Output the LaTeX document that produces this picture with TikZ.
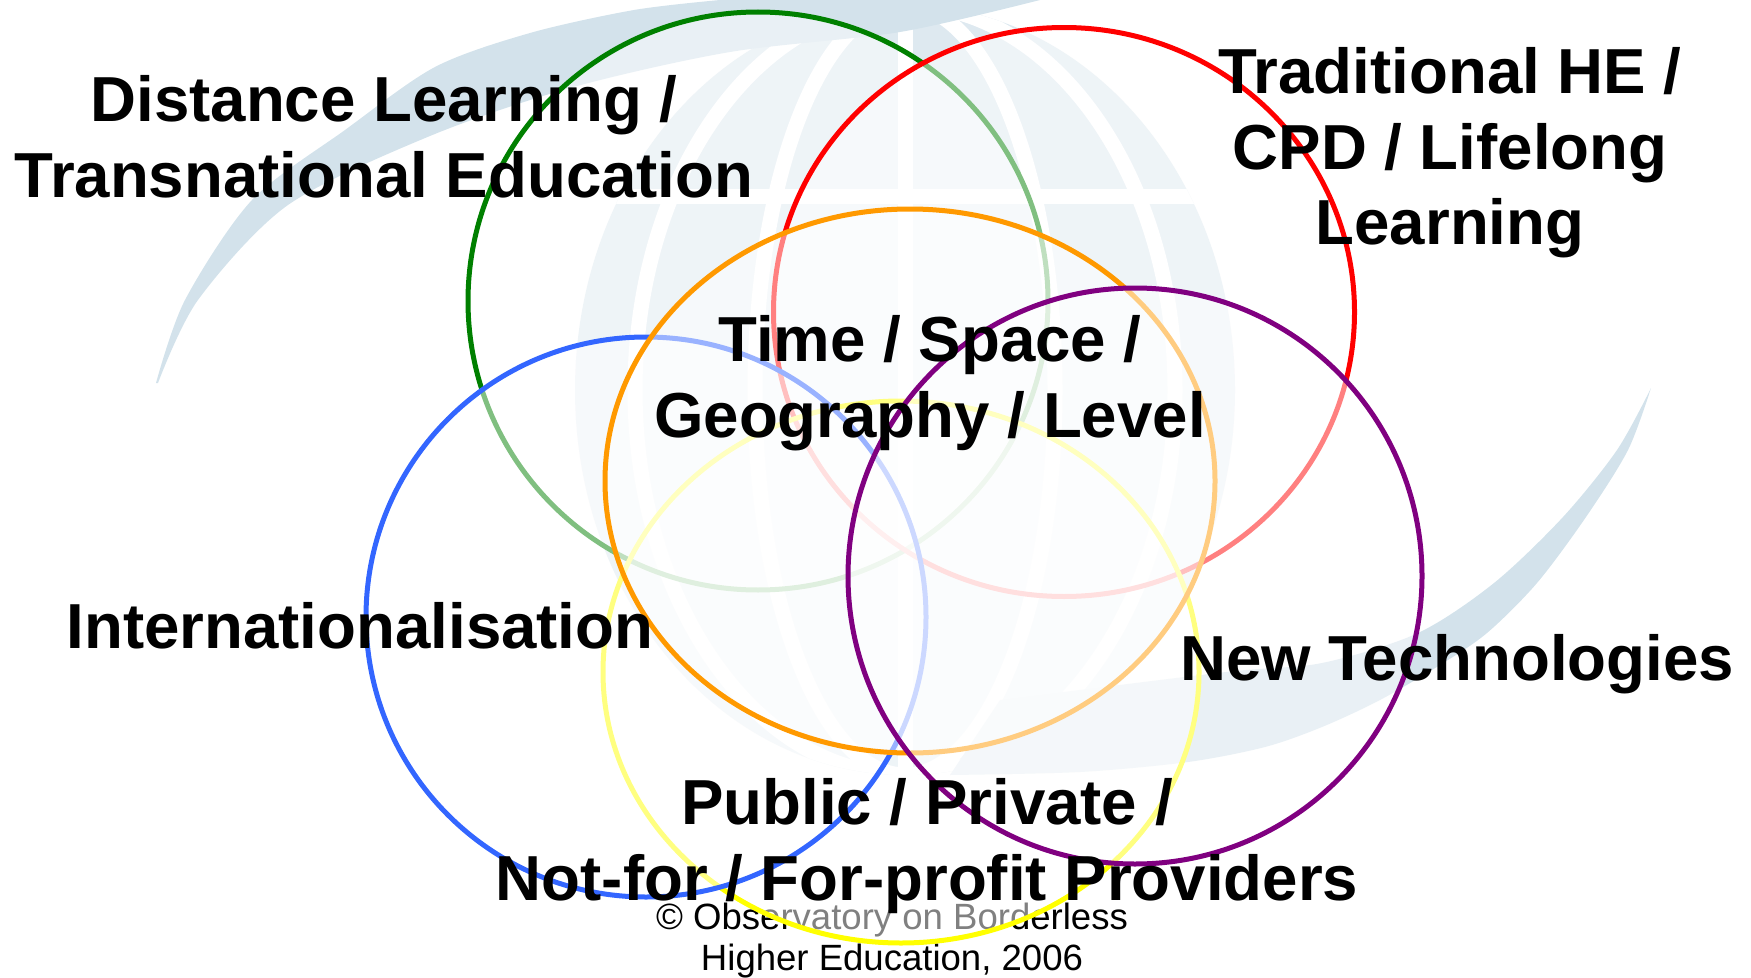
\documentclass[tikz,border=0pt]{standalone}
\usepackage{fontspec}
\setmainfont{Liberation Sans}
\usetikzlibrary{shapes.geometric}
\definecolor{logoblue}{HTML}{D3E2EB}
\definecolor{vgreen}{HTML}{008000}
\definecolor{vred}{HTML}{FF0000}
\definecolor{vorange}{HTML}{FF9900}
\definecolor{vblue}{HTML}{3366FF}
\definecolor{vyellow}{HTML}{FFFF00}
\definecolor{vpurple}{HTML}{800080}

\begin{document}
\begin{tikzpicture}[x=0.1mm, y=-0.1mm,
  ring/.style={ellipse, draw=#1, line width=0.5mm, fill=white, fill opacity=0.5, inner sep=0pt, outer sep=0pt},
  big/.style={align=center, font=\fontsize{18.1}{21.6}\selectfont\bfseries, anchor=base, inner sep=0pt},
  small/.style={align=center, font=\fontsize{10.4}{11.4}\selectfont, anchor=base, inner sep=0pt}]

\useasboundingbox (0,0) rectangle (1751,978);

% background logo: globe
\fill[logoblue!75] (905,390) ellipse [x radius=33mm, y radius=38.5mm];
\begin{scope}
\clip (905,390) ellipse [x radius=33mm, y radius=38.5mm];
\draw[white, line width=1.5mm] (905,0) -- (905,800);
\draw[white, line width=1.5mm] (905,390) ellipse [x radius=15mm, y radius=38.5mm];
\draw[white, line width=1.5mm] (905,390) ellipse [x radius=27mm, y radius=38.5mm];
\draw[white, line width=1.5mm] (500,197) -- (1300,197);
\end{scope}
% swooshes
\fill[logoblue] plot[smooth] coordinates {(156,383) (185,300) (252,200) (345,130) (435,67) (530,33) (634,10) (720,0)}
  -- plot[smooth] coordinates {(1040,0) (900,32) (730,52) (570,88) (430,136) (288,205) (198,300) (158,383)} -- cycle;
\fill[logoblue] plot[smooth] coordinates {(1651,388) (1617,450) (1563,517) (1494,583) (1418,633) (1322,663) (1226,672) (1000,700)}
  -- plot[smooth] coordinates {(950,775) (1080,772) (1188,762) (1265,747) (1322,727) (1380,700) (1440,665) (1487,633) (1537,583) (1586,517) (1628,450) (1651,388)} -- cycle;

% copyright, under the rings
\node[small] (copy) at (892,970) {\textcopyright{} Observatory on Borderless\\Higher Education, 2006};

% rings
\node[ring=vgreen, minimum width=58mm, minimum height=57.8mm] (dlring) at (758,301) {};
\node[ring=vred, minimum width=58.1mm, minimum height=56.9mm] (heRing) at (1064,312) {};
\node[ring=vyellow, minimum width=59.6mm, minimum height=54.2mm] (ppRing) at (901,672) {};
\node[ring=vblue, minimum width=56mm, minimum height=56mm] (intRing) at (646,617) {};
\node[ring=vorange, minimum width=61mm, minimum height=54.4mm] (tsRing) at (910,481) {};
\node[ring=vpurple, minimum width=57.4mm, minimum height=57.6mm] (ntRing) at (1135,576) {};

% labels
\node[big] (dl) at (384,197) {Distance Learning /\\Transnational Education};
\node[big] (he) at (1450,245) {Traditional HE /\\CPD / Lifelong\\Learning};
\node[big] (ts) at (930,437) {Time / Space /\\Geography / Level};
\node[big] (int) at (360,648) {Internationalisation};
\node[big] (nt) at (1457,680) {New Technologies};
\node[big] (pp) at (927,900) {Public / Private /\\Not-for / For-profit Providers};

\end{tikzpicture}
\end{document}
